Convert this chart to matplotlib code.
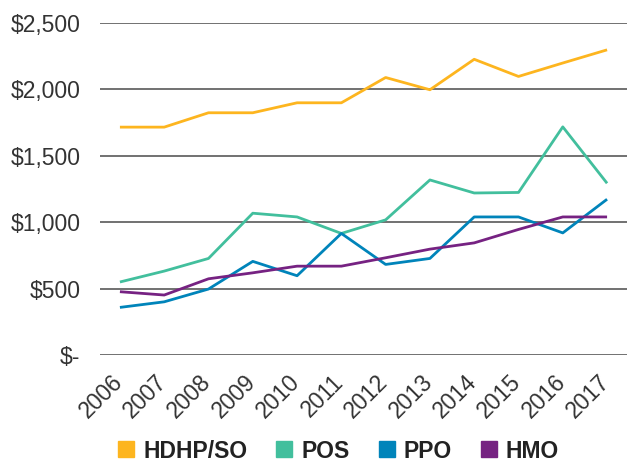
import matplotlib
matplotlib.use("Agg")
import matplotlib.pyplot as plt
from matplotlib.lines import Line2D
from matplotlib.transforms import ScaledTranslation

years = ["2006", "2007", "2008", "2009", "2010", "2011", "2012", "2013", "2014", "2015", "2016", "2017"]
hdhp = [1715, 1715, 1823, 1823, 1898, 1898, 2088, 1996, 2225, 2096, 2197, 2296]
pos = [551, 633, 728, 1068, 1040, 916, 1018, 1318, 1220, 1224, 1717, 1293]
ppo = [360, 402, 498, 706, 598, 916, 683, 728, 1040, 1040, 920, 1173]
hmo = [478, 453, 575, 620, 670, 670, 733, 798, 845, 946, 1040, 1040]
series_names = ["HDHP/SO", "POS", "PPO", "HMO"]
colors = ["#FDB51F", "#42BF9D", "#0084BA", "#762282"]
yticks = [0, 500, 1000, 1500, 2000, 2500]

plt.rcParams['font.family'] = ['Liberation Sans', 'DejaVu Sans']

fig = plt.figure(figsize=(6.27, 4.61), dpi=100)
ax = fig.add_axes([100/627, (461-355.3)/461, 1-100/627, (355.3-22.7)/461])

x = list(range(len(years)))
for vals, c in zip([hdhp, pos, ppo, hmo], colors):
    ax.plot(x, vals, color=c, lw=2.0, solid_capstyle='butt', zorder=3)

ax.set_ylim(0, 2500)
ax.set_xlim(-0.45, 11.45)
ax.set_yticks(yticks)
ax.set_yticklabels(["$-" if v == 0 else "${:,}".format(v) for v in yticks])
ax.set_xticks(x)
ax.set_xticklabels(years, rotation=45, ha='right', va='center', rotation_mode='anchor')
ax.yaxis.grid(True, color="#4a4a4a", lw=1.1)
ax.set_axisbelow(True)
for s in ax.spines.values():
    s.set_visible(False)
ax.tick_params(axis='y', length=0, pad=14, labelsize=16.5, labelcolor="#333333")
ax.tick_params(axis='x', length=0, pad=17, labelsize=16.5, labelcolor="#333333")

for lab in ax.get_xticklabels():
    lab.set_transform(lab.get_transform() + ScaledTranslation(-1/100, 0, fig.dpi_scale_trans))

handles = [Line2D([], [], marker='s', ls='none', color=c, markersize=12) for c in colors]
leg = fig.legend(handles, series_names, loc='center', bbox_to_anchor=(337/627, 1-451/461),
                 ncol=4, frameon=False, handletextpad=0.25, columnspacing=1.1,
                 handlelength=1.0, prop={'weight': 'bold', 'size': 16.5})
for t in leg.get_texts():
    t.set_color("#222222")

fig.savefig("out.png", dpi=100)
